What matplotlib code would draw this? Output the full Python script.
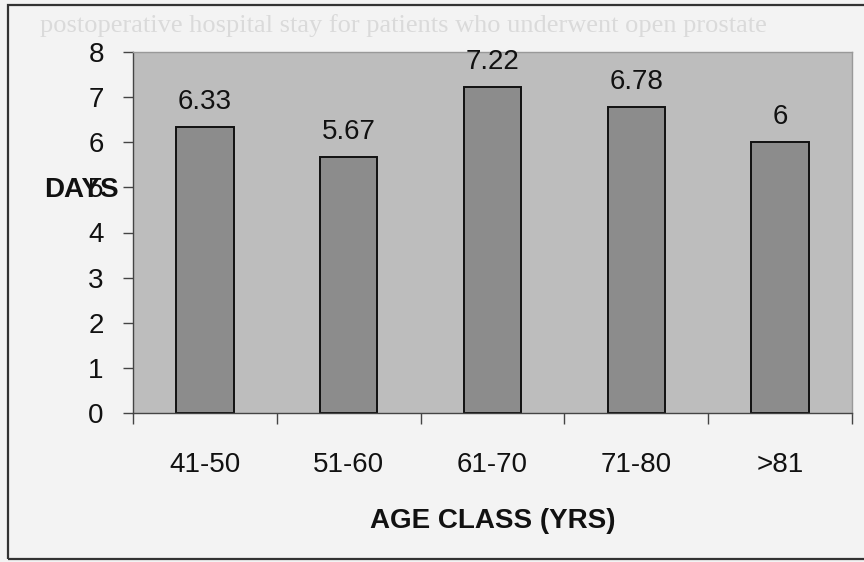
import matplotlib
matplotlib.use("Agg")
import matplotlib.pyplot as plt
from matplotlib.patches import Rectangle

# data
age_classes = ["41-50", "51-60", "61-70", "71-80", ">81"]
mean_days = [6.33, 5.67, 7.22, 6.78, 6]
value_labels = ["6.33", "5.67", "7.22", "6.78", "6"]
y_ticks = [0, 1, 2, 3, 4, 5, 6, 7, 8]

plt.rcParams["font.family"] = ["Liberation Sans", "DejaVu Sans"]

fig = plt.figure(figsize=(8.64, 5.62), dpi=100)
fig.patch.set_facecolor("#f3f3f3")

# scanned frame around the chart
frame = Rectangle((8 / 864, 3 / 562), 1.2, 554 / 562, transform=fig.transFigure,
                  fill=False, edgecolor="#333333", lw=1.6, clip_on=False)
fig.add_artist(frame)

# faint bleed-through text from the page
fig.text(40 / 864, 1 - 26 / 562, "postoperative hospital stay for patients who underwent open prostate",
         color="#dadada", fontsize=19, family=["Liberation Serif"],
         ha="left", va="center")

ax = fig.add_axes([133 / 864, 1 - 413 / 562, (852 - 133) / 864, (413 - 52) / 562])
ax.set_facecolor("#bdbdbd")

x = range(len(age_classes))
bars = ax.bar(x, mean_days, width=0.4, color="#8c8c8c", edgecolor="#111111", linewidth=1.4)

for b, lab in zip(bars, value_labels):
    ax.annotate(lab, (b.get_x() + b.get_width() / 2, b.get_height()),
                xytext=(0, 9), textcoords="offset points",
                ha="center", va="bottom", fontsize=20, color="#111111")

ax.set_xlim(-0.5, len(age_classes) - 0.5)
ax.set_ylim(0, 8)
ax.set_yticks(y_ticks)
ax.tick_params(axis="y", labelsize=20, length=7, width=1, color="#444444", pad=14,
               labelcolor="#111111")

# category ticks between bars, labels at bar centres
ax.set_xticks([i - 0.5 for i in range(len(age_classes) + 1)])
ax.set_xticklabels([])
ax.set_xticks(list(x), minor=True)
ax.set_xticklabels(age_classes, minor=True)
ax.tick_params(axis="x", which="major", length=8, width=1, color="#444444")
ax.tick_params(axis="x", which="minor", length=0, labelsize=20, pad=28, labelcolor="#111111")

for side in ["left", "bottom"]:
    ax.spines[side].set_color("#444444")
    ax.spines[side].set_linewidth(1)
for side in ["top", "right"]:
    ax.spines[side].set_color("#999999")
    ax.spines[side].set_linewidth(1)

ax.set_xlabel("AGE CLASS (YRS)", fontsize=20, fontweight="bold", labelpad=22, color="#111111")
fig.text(119 / 864, 1 - 190 / 562, "DAYS", fontsize=20, fontweight="bold",
         ha="right", va="center", color="#111111")

fig.savefig("out.png", dpi=100, facecolor=fig.get_facecolor())
